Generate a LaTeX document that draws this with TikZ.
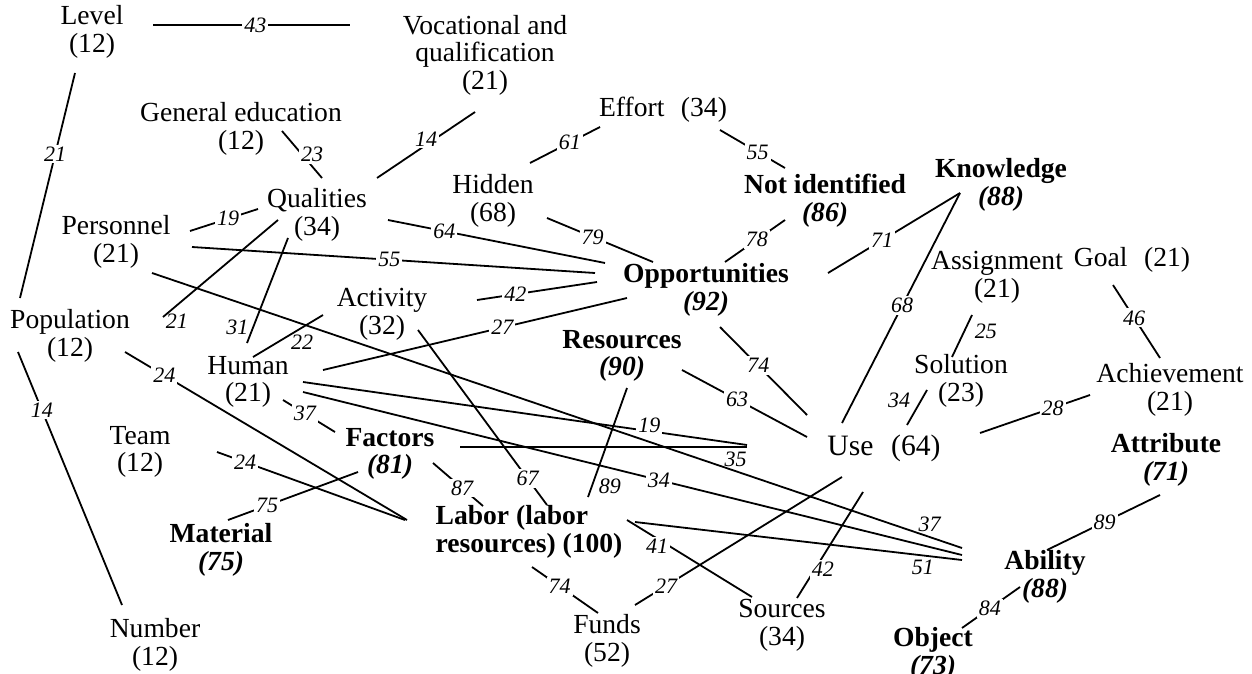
\documentclass[tikz,border=0pt]{standalone}
\usepackage{fontspec}
\setmainfont{Liberation Serif}

\begin{document}
\begin{tikzpicture}[
  x=.5pt, y=-.5pt,
  term/.style={align=center, inner sep=2pt, font=\fontsize{13.8}{13.8}\selectfont},
  key/.style={term, font=\fontsize{13.8}{13.8}\selectfont\bfseries},
  num/.style={font=\fontsize{11}{11}\selectfont\itshape, fill=white, inner sep=1pt},
  link/.style={line width=.9pt}
]
\useasboundingbox (0,0) rectangle (1252,674);

\node[term] (level) at (92,32) {Level\\(12)};
\node[term] (voc) at (485,55) {Vocational and\\qualification\\(21)};
\node[term] (gened) at (241,129) {General education\\(12)};
\node[term] (effort) at (663,110) {Effort\hspace{.6em}(34)};
\node[term] (hidden) at (493,201) {Hidden\\(68)};
\node[key] (notid) at (825,201) {Not identified\\\textit{(86)}};
\node[key] (know) at (1001,185) {Knowledge\\\textit{(88)}};
\node[term] (qual) at (317,215) {Qualities\\(34)};
\node[term] (pers) at (116,242) {Personnel\\(21)};
\node[key] (opp) at (706,290) {Opportunities\\\textit{(92)}};
\node[term] (assign) at (997,277) {Assignment\\(21)};
\node[term] (goal) at (1132,260) {Goal\hspace{.6em}(21)};
\node[term] (activity) at (382,314) {Activity\\(32)};
\node[term] (pop) at (70,336) {Population\\(12)};
\node[key] (res) at (622,356) {Resources\\\textit{(90)}};
\node[term] (human) at (248,382) {Human\\(21)};
\node[term] (sol) at (961,381) {Solution\\(23)};
\node[term] (ach) at (1170,390) {Achievement\\(21)};
\node[term, font=\fontsize{14.8}{14.8}\selectfont] (use) at (884,448) {Use\hspace{.6em}(64)};
\node[term] (team) at (140,452) {Team\\(12)};
\node[key] (fact) at (390,454) {Factors\\\textit{(81)}};
\node[key] (attr) at (1166,460) {Attribute\\\textit{(71)}};
\node[key] (mat) at (221,550) {Material\\\textit{(75)}};
\node[key, align=left] (labor) at (529,532) {Labor (labor\\resources) (100)};
\node[key] (abil) at (1045,577) {Ability\\\textit{(88)}};
\node[term] (number) at (155,645) {Number\\(12)};
\node[term] (funds) at (607,641) {Funds\\(52)};
\node[term] (sources) at (782,625) {Sources\\(34)};
\node[key] (object) at (933,654) {Object\\\textit{(73)}};

\draw[link] ([shift={(61,-7)}]level.center) -- node[num, pos=.52]{43} ([shift={(-135,-30)}]voc.center);
\draw[link] ([shift={(-17,41)}]level.center) -- node[num, pos=.36]{21} ([shift={(-50,-38)}]pop.center);
\draw[link] ([shift={(-52,16)}]pop.center) -- node[num, pos=.23]{14} ([shift={(-33,-40)}]number.center);
\draw[link] ([shift={(60,-37)}]qual.center) -- node[num, pos=.5, yshift=3pt]{14} ([shift={(-10,57)}]voc.center);
\draw[link] ([shift={(41,2)}]gened.center) -- node[num, pos=.5, xshift=5pt]{23} ([shift={(5,-37)}]qual.center);
\draw[link] ([shift={(74,-11)}]pers.center) -- node[num, pos=.56]{19} ([shift={(-59,-6)}]qual.center);
\draw[link] ([shift={(71,5)}]qual.center) -- node[num, pos=.26]{64} ([shift={(-101,-27)}]opp.center);
\draw[link] ([shift={(76,5)}]pers.center) -- node[num, pos=.49]{55} ([shift={(-111,-17)}]opp.center);
\draw[link] ([shift={(54,17)}]hidden.center) -- node[num, pos=.43]{79} ([shift={(-53,-28)}]opp.center);
\draw[link] ([shift={(37,-38)}]hidden.center) -- node[num, pos=.57]{61} ([shift={(-63,17)}]effort.center);
\draw[link] ([shift={(57,20)}]effort.center) -- node[num, pos=.58]{55} ([shift={(-40,-33)}]notid.center);
\draw[link] ([shift={(19,-28)}]opp.center) -- node[num, pos=.53]{78} ([shift={(-40,19)}]notid.center);
\draw[link] ([shift={(122,-17)}]opp.center) -- node[num, pos=.41]{71} ([shift={(-41,8)}]know.center);
\draw[link] ([shift={(-42,-25)}]use.center) -- node[num, pos=.51]{68} ([shift={(-41,8)}]know.center);
\draw[link] ([shift={(-25,38)}]assign.center) -- node[num, pos=.4, right=4pt, fill=none]{25} ([shift={(-9,-24)}]sol.center);
\draw[link] ([shift={(-19,25)}]goal.center) -- node[num, pos=.45]{46} ([shift={(-10,-32)}]ach.center);
\draw[link] ([shift={(-34,9)}]sol.center) -- node[num, pos=.3, left=4pt, fill=none]{34} ([shift={(23,-23)}]use.center);
\draw[link] ([shift={(96,-15)}]use.center) -- node[num, pos=.66]{28} ([shift={(-80,5)}]ach.center);
\draw[link] ([shift={(14,37)}]opp.center) -- node[num, pos=.44]{74} ([shift={(-77,-33)}]use.center);
\draw[link] ([shift={(60,14)}]res.center) -- node[num, pos=.44]{63} ([shift={(-77,-11)}]use.center);
\draw[link] ([shift={(5,32)}]res.center) -- node[num, pos=.9, right=2pt, fill=none]{89} ([shift={(59,-35)}]labor.center);
\draw[link] ([shift={(75,-12)}]human.center) -- node[num, pos=.59]{27} ([shift={(-79,8)}]opp.center);
\draw[link] ([shift={(95,-14)}]activity.center) -- node[num, pos=.32]{42} ([shift={(-109,-8)}]opp.center);
\draw[link] ([shift={(-39,5)}]qual.center) -- node[num, pos=1, anchor=west, yshift=-2pt, fill=none]{21} ([shift={(93,-19)}]pop.center);
\draw[link] ([shift={(-29,23)}]qual.center) -- node[num, pos=.85, left=1pt, fill=none]{31} ([shift={(-1,-39)}]human.center);
\draw[link] ([shift={(5,-25)}]human.center) -- node[num, pos=.7, below=2pt, fill=none]{22} ([shift={(-59,1)}]activity.center);
\draw[link] ([shift={(36,31)}]pers.center) -- node[num, pos=.96, above=1pt, fill=none]{37} ([shift={(-83,-29)}]abil.center);
\draw[link] ([shift={(55,10)}]human.center) -- node[num, pos=.54]{34} ([shift={(-83,-22)}]abil.center);
\draw[link] ([shift={(106,-10)}]labor.center) -- node[num, pos=.88, below=1pt, fill=none]{51} ([shift={(-83,-17)}]abil.center);
\draw[link] ([shift={(55,0)}]human.center) -- node[num, pos=.78, yshift=3pt]{19} ([shift={(-137,-3)}]use.center);
\draw[link] ([shift={(70,-7)}]fact.center) -- node[num, pos=.96, below=1pt, fill=none]{35} ([shift={(-137,-1)}]use.center);
\draw[link] ([shift={(35,18)}]human.center) -- node[num, pos=.42]{37} ([shift={(-55,-22)}]fact.center);
\draw[link] ([shift={(55,16)}]pop.center) -- node[num, pos=.14]{24} ([shift={(-122,-12)}]labor.center);
\draw[link] ([shift={(77,0)}]team.center) -- node[num, pos=.15]{24} ([shift={(-124,-12)}]labor.center);
\draw[link] ([shift={(-32,18)}]fact.center) -- node[num, pos=.7]{75} ([shift={(7,-30)}]mat.center);
\draw[link] ([shift={(43,9)}]fact.center) -- node[num, pos=.58]{87} ([shift={(-46,-26)}]labor.center);
\draw[link] ([shift={(36,16)}]activity.center) -- node[num, pos=.85]{67} ([shift={(18,-27)}]labor.center);
\draw[link] ([shift={(3,35)}]labor.center) -- node[num, pos=.42]{74} ([shift={(-9,-28)}]funds.center);
\draw[link] ([shift={(28,-36)}]funds.center) -- node[num, pos=.15]{27} ([shift={(-42,29)}]use.center);
\draw[link] ([shift={(-21,44)}]use.center) -- node[num, pos=.73, xshift=4pt]{42} ([shift={(15,-27)}]sources.center);
\draw[link] ([shift={(98,-12)}]labor.center) -- node[num, pos=.24, yshift=-4pt]{41} ([shift={(-30,-28)}]sources.center);
\draw[link] ([shift={(2,-27)}]abil.center) -- node[num, pos=.51]{89} ([shift={(-6,35)}]attr.center);
\draw[link] ([shift={(29,-26)}]object.center) -- node[num, pos=.48]{84} ([shift={(-25,10)}]abil.center);

\end{tikzpicture}
\end{document}
